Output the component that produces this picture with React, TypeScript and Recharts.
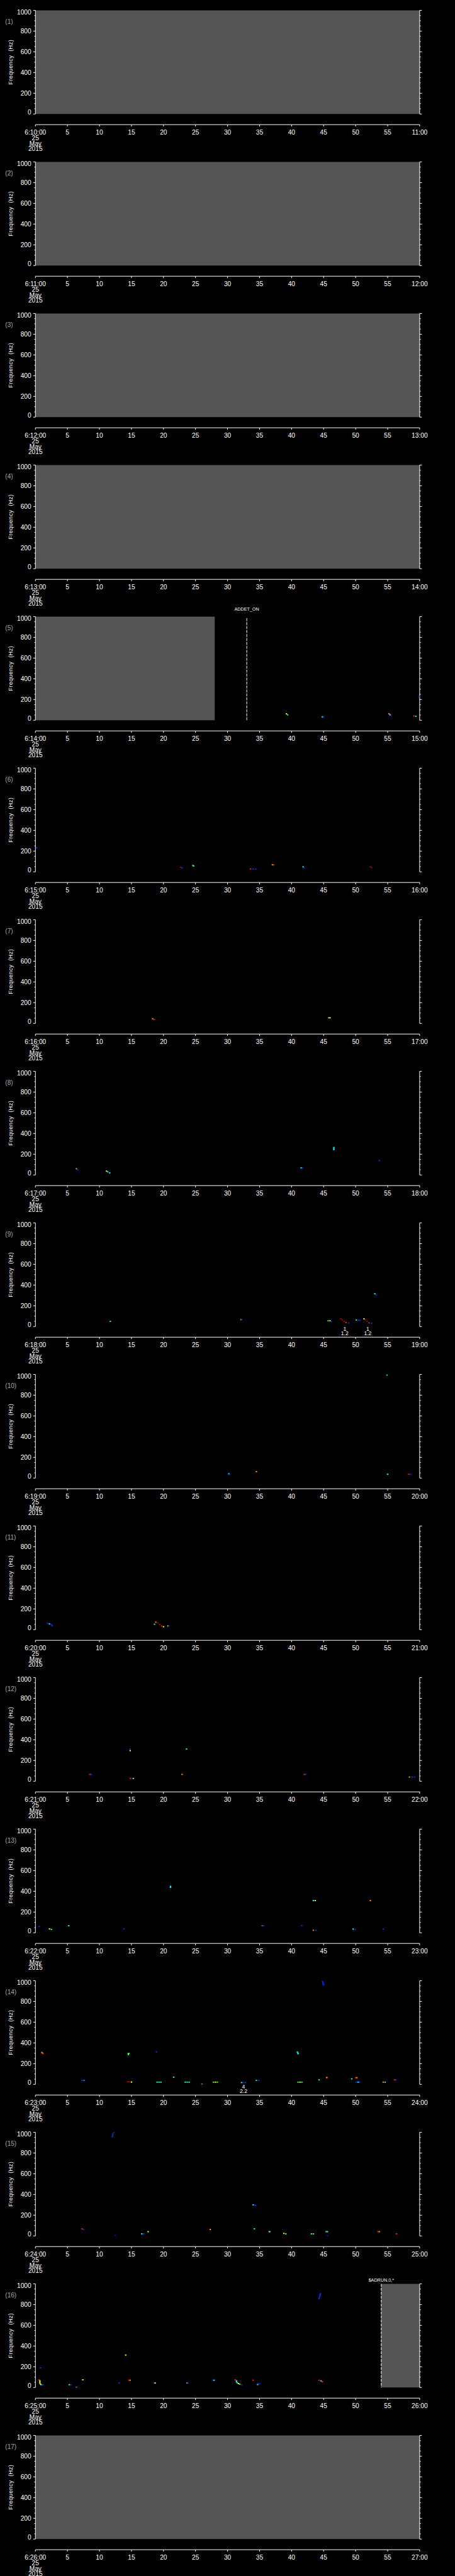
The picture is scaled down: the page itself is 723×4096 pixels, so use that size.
import React from 'react';
import { ScatterChart, Scatter, XAxis, YAxis, ReferenceArea, ReferenceLine, ReferenceDot } from 'recharts';

// ---------------- data ----------------
type Mark = [number, number, string]; // [seconds, Hz, colour key]

const startLabels = ['6:10:00', '6:11:00', '6:12:00', '6:13:00', '6:14:00', '6:15:00', '6:16:00', '6:17:00', '6:18:00', '6:19:00', '6:20:00', '6:21:00', '6:22:00', '6:23:00', '6:24:00', '6:25:00', '6:26:00'];
const endLabels = ['11:00', '12:00', '13:00', '14:00', '15:00', '16:00', '17:00', '18:00', '19:00', '20:00', '21:00', '22:00', '23:00', '24:00', '25:00', '26:00', '27:00'];
const panelLabels = ['(1)', '(2)', '(3)', '(4)', '(5)', '(6)', '(7)', '(8)', '(9)', '(10)', '(11)', '(12)', '(13)', '(14)', '(15)', '(16)', '(17)'];
const dateLines = ['25', 'May', '2015'];
const xTicks = [0, 5, 10, 15, 20, 25, 30, 35, 40, 45, 50, 55, 60];
const xTickLabels = ['', '5', '10', '15', '20', '25', '30', '35', '40', '45', '50', '55', ''];
const yTicks = [0, 50, 100, 150, 200, 250, 300, 350, 400, 450, 500, 550, 600, 650, 700, 750, 800, 850, 900, 950, 1000];
const yLabelled = [0, 200, 400, 600, 800, 1000];

// no-data (grey) bands per panel, in seconds
const grayBands: ([number, number] | null)[] = [
  [0, 60], [0, 60], [0, 60], [0, 60], [0, 28], null, null, null, null, null, null, null, null, null, null, [54, 60], [0, 60],
];

const marks5: Mark[] = [
  [39.2, 62, 'y'], [39.4, 52, 'g'],
  [44.8, 33, 'c'], [45.0, 30, 'b'],
  [55.2, 62, 'o'], [55.4, 52, 'y'], [55.5, 47, 'b'],
  [59.1, 42, 'r'], [59.4, 38, 'c'],
  [59.9, 228, 'b'],
];
const marks6: Mark[] = [
  [0.2, 232, 'b'],
  [22.7, 45, 'dr'], [22.9, 38, 'b'],
  [24.6, 62, 'c'], [24.7, 56, 'g'],
  [33.6, 28, 'r'], [34.0, 28, 'b'], [34.4, 27, 'b'],
  [37.0, 68, 'o'], [37.2, 66, 'r'],
  [41.8, 48, 'c'], [41.9, 38, 'b'],
  [52.3, 48, 'dr'], [52.5, 40, 'dr'],
];
const marks7: Mark[] = [
  [18.3, 45, 'o'], [18.5, 38, 'r'],
  [45.8, 54, 'g'], [46.0, 54, 'y'],
];
const marks8: Mark[] = [
  [6.4, 60, 'o'], [6.6, 50, 'b'],
  [11.1, 37, 'y'], [11.3, 30, 'c'], [11.6, 20, 'c'],
  [41.5, 69, 'c'], [41.7, 67, 'b'],
  [46.6, 265, 'c'], [46.6, 255, 'c'], [46.6, 245, 'c'],
  [53.7, 139, 'b'],
];
const marks9: Mark[] = [
  [11.7, 50, 'c'],
  [32.1, 66, 'o'], [32.2, 66, 'b'],
  [45.7, 55, 'g'], [46.0, 55, 'y'], [46.2, 50, 'b'],
  [47.7, 76, 'dr'], [47.9, 65, 'dr'], [48.2, 50, 'dr'], [48.5, 38, 'r'], [48.9, 33, 'b'],
  [50.1, 63, 'g'], [50.4, 60, 'b'], [50.7, 60, 'b'],
  [51.3, 74, 'y'], [51.5, 65, 'dr'], [51.8, 50, 'dr'], [52.1, 35, 'r'], [52.5, 33, 'b'],
  [53.0, 316, 'c'], [53.2, 303, 'b'],
];
const marks10: Mark[] = [
  [54.9, 995, 'c'],
  [30.2, 42, 'c'], [30.3, 35, 'b'],
  [34.5, 62, 'o'],
  [55.0, 37, 'c'],
  [58.3, 37, 'r'], [58.6, 37, 'b'],
];
const marks11: Mark[] = [
  [1.9, 62, 'b'], [2.2, 55, 'c'], [2.5, 48, 'b'], [2.6, 38, 'b'],
  [18.6, 52, 'c'], [18.8, 72, 'o'], [19.1, 65, 'dr'], [19.4, 50, 'dr'], [19.7, 35, 'r'], [20.0, 28, 'y'],
  [20.7, 36, 'y'], [20.8, 36, 'b'],
];
const marks12: Mark[] = [
  [8.5, 66, 'r'], [8.7, 66, 'b'],
  [14.8, 310, 'b'], [14.8, 295, 'y'],
  [14.8, 27, 'r'], [15.1, 27, 'dr'], [15.3, 27, 'c'],
  [22.9, 66, 'o'],
  [23.6, 311, 'c'],
  [42.0, 66, 'r'], [42.2, 66, 'b'],
  [58.4, 40, 'o'], [58.8, 40, 'b'], [59.2, 40, 'b'],
];
const marks13: Mark[] = [
  [0.6, 60, 'b'],
  [2.2, 37, 'y'], [2.5, 33, 'g'],
  [5.2, 68, 'c'],
  [13.8, 37, 'b'],
  [21.1, 448, 'c'], [21.1, 438, 'c'],
  [35.4, 68, 'r'], [35.6, 68, 'b'],
  [41.6, 70, 'b'],
  [43.4, 311, 'c'], [43.7, 311, 'y'],
  [43.4, 24, 'o'], [43.8, 24, 'b'],
  [49.6, 36, 'c'], [49.9, 33, 'b'],
  [52.3, 311, 'o'],
  [54.3, 36, 'b'],
];
const marks14: Mark[] = [
  [1.0, 308, 'o'], [1.1, 302, 'o'], [1.2, 296, 'r'],
  [7.3, 39, 'b'], [7.6, 39, 'lb'],
  [14.4, 25, 'dr'], [14.7, 25, 'dr'], [15.0, 22, 'y'],
  [14.5, 297, 'g'], [14.5, 287, 'g'], [14.6, 298, 'g'],
  [18.9, 313, 'b'],
  [19.0, 21, 'c'], [19.3, 21, 'g'], [19.6, 21, 'c'],
  [21.6, 69, 'c'],
  [23.4, 21, 'c'], [23.7, 21, 'g'], [24.0, 21, 'c'],
  [26.0, 1, 'c'],
  [27.8, 21, 'g'], [28.1, 21, 'y'], [28.4, 21, 'g'],
  [32.2, 17, 'c'], [32.5, 17, 'b'], [32.8, 17, 'b'],
  [34.5, 39, 'c'], [34.9, 39, 'b'],
  [40.9, 312, 'c'], [41.0, 302, 'c'], [41.0, 296, 'c'],
  [41.0, 21, 'g'], [41.3, 21, 'y'], [41.6, 21, 'c'],
  [44.3, 43, 'c'],
  [45.5, 69, 'r'], [45.5, 64, 'o'],
  [44.8, 998, 'b'], [44.9, 985, 'b'], [44.9, 972, 'b'], [45.0, 960, 'b'],
  [49.4, 53, 'c'],
  [50.0, 64, 'r'], [50.2, 64, 'o'],
  [50.1, 21, 'b'], [50.4, 21, 'c'], [50.6, 21, 'b'],
  [54.3, 21, 'o'], [54.6, 21, 'c'],
  [56.1, 43, 'r'], [56.3, 43, 'b'],
];
const marks15: Mark[] = [
  [12.0, 958, 'b'], [12.05, 970, 'b'], [12.1, 982, 'b'], [12.2, 997, 'b'],
  [7.3, 68, 'r'], [7.5, 62, 'b'],
  [12.5, 1, 'b'],
  [16.6, 20, 'c'], [16.9, 20, 'b'],
  [17.6, 41, 'y'],
  [27.3, 62, 'o'],
  [34.0, 300, 'c'], [34.2, 298, 'b'], [34.4, 292, 'b'],
  [34.2, 69, 'c'],
  [36.5, 41, 'o'], [36.6, 41, 'c'],
  [38.8, 24, 'y'], [39.1, 20, 'c'],
  [43.1, 20, 'c'], [43.4, 20, 'g'],
  [45.4, 41, 'g'], [45.6, 41, 'c'],
  [45.6, 1, 'b'],
  [53.5, 41, 'r'], [53.7, 41, 'o'],
  [56.4, 20, 'r'],
];
const marks16: Mark[] = [
  [0.6, 74, 'r'], [0.7, 64, 'y'], [0.7, 53, 'y'], [0.7, 42, 'y'], [0.8, 31, 'y'],
  [0.9, 27, 'c'], [1.2, 27, 'b'],
  [0.8, 189, 'b'],
  [5.3, 27, 'c'], [5.5, 27, 'b'],
  [6.4, 1, 'c'],
  [7.4, 74, 'y'],
  [13.1, 43, 'b'],
  [14.1, 313, 'y'],
  [14.6, 70, 'r'], [14.8, 70, 'o'],
  [18.5, 43, 'b'], [18.7, 43, 'y'],
  [23.7, 43, 'y'], [23.8, 43, 'b'],
  [27.7, 70, 'b'], [27.9, 70, 'c'],
  [31.2, 74, 'r'], [31.4, 64, 'c'], [31.4, 54, 'c'], [31.5, 45, 'c'], [31.7, 38, 'y'], [31.9, 32, 'g'], [32.2, 27, 'b'],
  [34.0, 70, 'r'],
  [34.7, 28, 'c'], [34.8, 37, 'b'], [35.0, 35, 'b'],
  [44.3, 70, 'r'], [44.6, 64, 'c'], [44.8, 56, 'r'],
  [44.3, 858, 'b'], [44.35, 870, 'b'], [44.4, 882, 'b'], [44.45, 894, 'b'], [44.5, 905, 'b'],
];

const panelMarks: Mark[][] = [
  [], [], [], [], marks5, marks6, marks7, marks8, marks9, marks10, marks11, marks12, marks13, marks14, marks15, marks16, [],
];

// event markers (dashed vertical lines) : panel index (0-based), seconds, top Hz, text
const eventPanels = [4, 15];
const eventTimes = [33, 54];
const eventTops = [985, 1000];
const eventTexts = ['ADDET_ON', '$ADRUN,0,*'];

// small two-line annotations under the plot
const notePanels = [13, 8, 8];
const noteTimes = [32.5, 48.3, 51.9];
const noteTexts = [['4', '2.2'], ['1', '1.2'], ['1', '1.2']];

// ---------------- layout ----------------
const S = 723 / 1024;
const W = 723;
const STEP = 341.3 * S;
const CH = 241;
const TOP = 23.3 * S;
const PLOT_H = 233.4 * S;
const LEFT = 79.7 * S;
const RIGHT_W = W - 944.5 * S;
const PLOT_W = W - LEFT - RIGHT_W;
const BOTTOM = CH - TOP - PLOT_H;
const AXIS_GAP = 24 * S;
const FONT = "'Liberation Sans', Arial, sans-serif";
const FS = 10.2;

const COLORS: Record<string, string> = {
  dr: '#b00000', r: '#ff2000', o: '#ff9000', y: '#ffff00', g: '#40ff40', c: '#00ffff', lb: '#0098ff', b: '#0030ff',
};

const renderMark = (p: any) => {
  if (p.cx == null || p.cy == null) return <g />;
  return <rect x={p.cx - 1.1} y={p.cy - 0.95} width={2.2} height={1.9} fill={COLORS[p.payload.c]} />;
};

const makeXTick = (idx: number) => (p: any) => {
  const { x, y, payload } = p;
  const v = payload.value;
  const i = xTicks.indexOf(v);
  const ay = y + AXIS_GAP;
  const lbl = v === 0 ? startLabels[idx] : v === 60 ? endLabels[idx] : xTickLabels[i];
  return (
    <g>
      {v === 0 && <line x1={x} y1={ay} x2={x + PLOT_W} y2={ay} stroke="#fff" strokeWidth={1} />}
      <line x1={x} y1={ay} x2={x} y2={ay + 3} stroke="#fff" strokeWidth={1} />
      <text x={x} y={y + 29.4 + 3.7} textAnchor="middle" fill="#fff" fontSize={FS} fontFamily={FONT}>{lbl}</text>
      {v === 0 && dateLines.map((d, k) => (
        <text key={d} x={x} y={y + [38.0, 47.0, 54.8][k] + 3.7} textAnchor="middle" fill="#fff" fontSize={FS} fontFamily={FONT}>{d}</text>
      ))}
    </g>
  );
};

const renderYTickL = (p: any) => {
  const { x, y, payload } = p;
  const v = payload.value;
  const major = yLabelled.includes(v);
  const dy = v === 1000 ? 3.3 : v === 0 ? -3.0 : 0;
  return (
    <g>
      <line x1={x} y1={y} x2={x - (major ? 3.4 : 1.7)} y2={y} stroke="#fff" strokeWidth={1} />
      {major && <text x={x - 6.6} y={y + dy + 3.6} textAnchor="end" fill="#fff" fontSize={FS} fontFamily={FONT}>{v}</text>}
    </g>
  );
};

const renderYTickR = (p: any) => {
  const { x, y, payload } = p;
  const major = yLabelled.includes(payload.value);
  return <line x1={x} y1={y} x2={x + (major ? 3.4 : 1.7)} y2={y} stroke="#fff" strokeWidth={1} />;
};

const makeYLabel = (idx: number) => () => (
  <g>
    <text x={8.3} y={37.7} fill="#a8a8a8" fontSize={10} fontFamily={FONT}>{panelLabels[idx]}</text>
    <text x={16.2} y={98.8} transform="rotate(-90 16.2 98.8)" textAnchor="middle" dominantBaseline="central" fill="#fff" fontSize={9.4} fontFamily={FONT} letterSpacing={0.3}>{'Frequency\u00a0\u00a0(Hz)'}</text>
  </g>
);

function Panel({ idx }: { idx: number }) {
  const data = panelMarks[idx].map(([t, f, c]) => ({ t, f, c }));
  const gray = grayBands[idx];
  const ev = eventPanels.indexOf(idx);
  const notes = notePanels.map((p, k) => (p === idx ? k : -1)).filter((k) => k >= 0);
  return (
    <div style={{ position: 'absolute', left: 0, top: idx * STEP, width: W, height: CH }}>
      <ScatterChart width={W} height={CH} margin={{ top: TOP, right: 0, bottom: 0, left: 0 }}>
        <XAxis xAxisId="x" dataKey="t" type="number" domain={[0, 60]} allowDataOverflow ticks={xTicks} interval={0}
          height={BOTTOM} axisLine={false} tickLine={false} tickSize={0} tickMargin={0} tick={makeXTick(idx)} />
        <YAxis yAxisId="l" dataKey="f" type="number" domain={[0, 1000]} allowDataOverflow ticks={yTicks} interval={0}
          width={LEFT} axisLine={{ stroke: '#fff', strokeWidth: 1 }} tickLine={false} tickSize={0} tickMargin={0}
          tick={renderYTickL} label={makeYLabel(idx)} />
        <YAxis yAxisId="r" orientation="right" type="number" domain={[0, 1000]} allowDataOverflow ticks={yTicks} interval={0}
          width={RIGHT_W} axisLine={{ stroke: '#fff', strokeWidth: 1 }} tickLine={false} tickSize={0} tickMargin={0}
          tick={renderYTickR} />
        {gray && (
          <ReferenceArea xAxisId="x" yAxisId="l" x1={gray[0]} x2={gray[1]} y1={0} y2={1000} fill="#555555" fillOpacity={1} stroke="none" />
        )}
        {ev >= 0 && (
          <ReferenceLine xAxisId="x" yAxisId="l" segment={[{ x: eventTimes[ev], y: eventTops[ev] }, { x: eventTimes[ev], y: 0 }]}
            stroke="#fff" strokeWidth={1} strokeDasharray="4.7 1.6"
            label={(p: any) => (
              <text x={p.viewBox ? p.viewBox.x : 0} y={ev === 0 ? 7.3 : 12.9} textAnchor="middle" fill="#fff" fontSize={7.2} fontFamily={FONT}>{eventTexts[ev]}</text>
            )} />
        )}
        {notes.map((k) => (
          <ReferenceDot key={k} xAxisId="x" yAxisId="l" x={noteTimes[k]} y={0} r={0.01} fill="none" stroke="none"
            label={(p: any) => (
              <g>
                <text x={p.viewBox ? p.viewBox.x : 0} y={TOP + PLOT_H + 6.8} textAnchor="middle" fill="#fff" fontSize={8.6} fontFamily={FONT}>{noteTexts[k][0]}</text>
                <text x={p.viewBox ? p.viewBox.x : 0} y={TOP + PLOT_H + 13.7} textAnchor="middle" fill="#fff" fontSize={8.6} fontFamily={FONT}>{noteTexts[k][1]}</text>
              </g>
            )} />
        ))}
        <Scatter xAxisId="x" yAxisId="l" data={data} isAnimationActive={false} shape={renderMark} />
      </ScatterChart>
    </div>
  );
}

export default function App() {
  return (
    <div style={{ position: 'absolute', left: 0, top: 0, width: W, height: 4096, background: '#000', overflow: 'hidden' }}>
      {panelLabels.map((_, i) => <Panel key={i} idx={i} />)}
    </div>
  );
}
